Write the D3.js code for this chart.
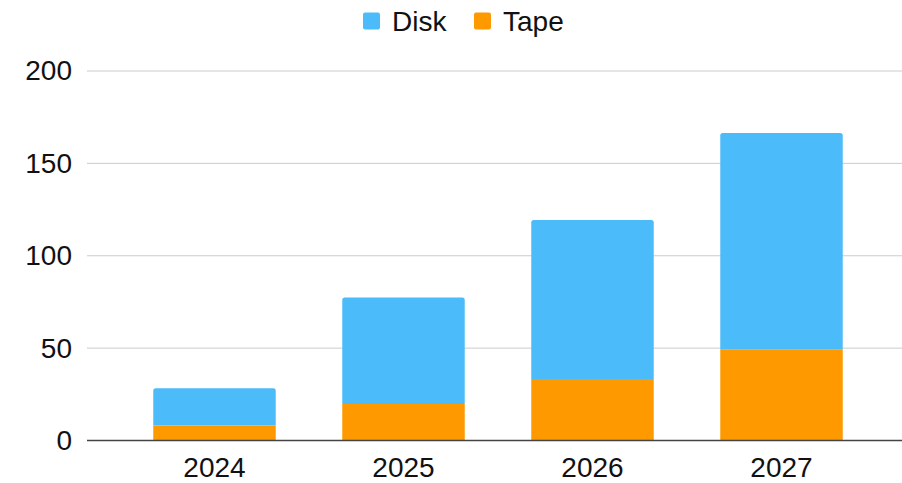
<!DOCTYPE html>
<html>
<head>
<meta charset="utf-8">
<script src="https://cdn.jsdelivr.net/npm/d3@7"></script>
<style>
  html, body { margin: 0; padding: 0; background: #fff; }
  svg { display: block; font-family: Arial, "Liberation Sans", sans-serif; }
</style>
</head>
<body>
<svg id="chart" width="902" height="483"></svg>
<script>
// Storage capacity by year, stacked: tape at the bottom, disk on top
const years = ["2024", "2025", "2026", "2027"];
const tape = [8.2, 19.8, 33.3, 49.4];
const disk = [20.1, 57.6, 86.0, 117.0];
const yTicks = [0, 50, 100, 150, 200];
const seriesNames = ["Disk", "Tape"];
const seriesColors = { Disk: "#4BBBF9", Tape: "#FF9900" };

const svg = d3.select("#chart");
const FONT = 28;
const plot = { left: 87, right: 902, top: 71, bottom: 440.5 };

const rows = years.map((y, i) => ({ year: y, Tape: tape[i], Disk: disk[i] }));
const stack = d3.stack().keys(["Tape", "Disk"])(rows);

const x = d3.scaleBand()
  .domain(years)
  .range([120, 876])
  .paddingInner(0.352)
  .paddingOuter(0.176);

const y = d3.scaleLinear()
  .domain([0, 200])
  .range([plot.bottom, plot.top]);

// Gridlines
svg.append("g")
  .selectAll("line")
  .data(yTicks.filter(t => t !== 0))
  .join("line")
  .attr("x1", plot.left).attr("x2", plot.right)
  .attr("y1", d => y(d)).attr("y2", d => y(d))
  .attr("stroke", "#cccccc").attr("stroke-width", 1);

// Y axis labels
const yAxis = d3.axisLeft(y).tickValues(yTicks).tickSize(0).tickPadding(15);
svg.append("g")
  .attr("transform", `translate(${plot.left},0)`)
  .call(yAxis)
  .call(g => g.select(".domain").remove())
  .selectAll("text")
  .attr("font-size", FONT)
  .attr("font-family", "Arial, 'Liberation Sans', sans-serif")
  .attr("fill", "#111");

// Stacked bars
stack.forEach(layer => {
  const key = layer.key;
  const g = svg.append("g");
  layer.forEach(seg => {
    const x0 = x(seg.data.year);
    const w = x.bandwidth();
    const y0 = y(seg[0]), y1 = y(seg[1]);
    if (key === "Disk") {
      // top segment gets slightly rounded upper corners
      const r = 2.5;
      const path = d3.path();
      path.moveTo(x0, y0);
      path.lineTo(x0, y1 + r);
      path.quadraticCurveTo(x0, y1, x0 + r, y1);
      path.lineTo(x0 + w - r, y1);
      path.quadraticCurveTo(x0 + w, y1, x0 + w, y1 + r);
      path.lineTo(x0 + w, y0);
      path.closePath();
      g.append("path").attr("d", path.toString()).attr("fill", seriesColors[key]);
    } else {
      g.append("rect")
        .attr("x", x0).attr("y", y1)
        .attr("width", w).attr("height", y0 - y1)
        .attr("fill", seriesColors[key]);
    }
  });
});

// Baseline
svg.append("line")
  .attr("x1", plot.left).attr("x2", plot.right)
  .attr("y1", y(0)).attr("y2", y(0))
  .attr("stroke", "#444").attr("stroke-width", 1.5);

// X axis labels
const xAxis = d3.axisBottom(x).tickSize(0).tickPadding(17);
svg.append("g")
  .attr("transform", `translate(0,${plot.bottom})`)
  .call(xAxis)
  .call(g => g.select(".domain").remove())
  .selectAll("text")
  .attr("font-size", FONT)
  .attr("font-family", "Arial, 'Liberation Sans', sans-serif")
  .attr("fill", "#111");

// Legend
const legendPos = [
  { name: seriesNames[0], sx: 363, tx: 392 },
  { name: seriesNames[1], sx: 474, tx: 503 }
];
const legend = svg.append("g");
legendPos.forEach(d => {
  legend.append("rect")
    .attr("x", d.sx).attr("y", 12.5)
    .attr("width", 17).attr("height", 17)
    .attr("rx", 2)
    .attr("fill", seriesColors[d.name]);
  legend.append("text")
    .attr("x", d.tx).attr("y", 30.5)
    .attr("font-size", FONT)
    .attr("fill", "#111")
    .text(d.name);
});
</script>
</body>
</html>
